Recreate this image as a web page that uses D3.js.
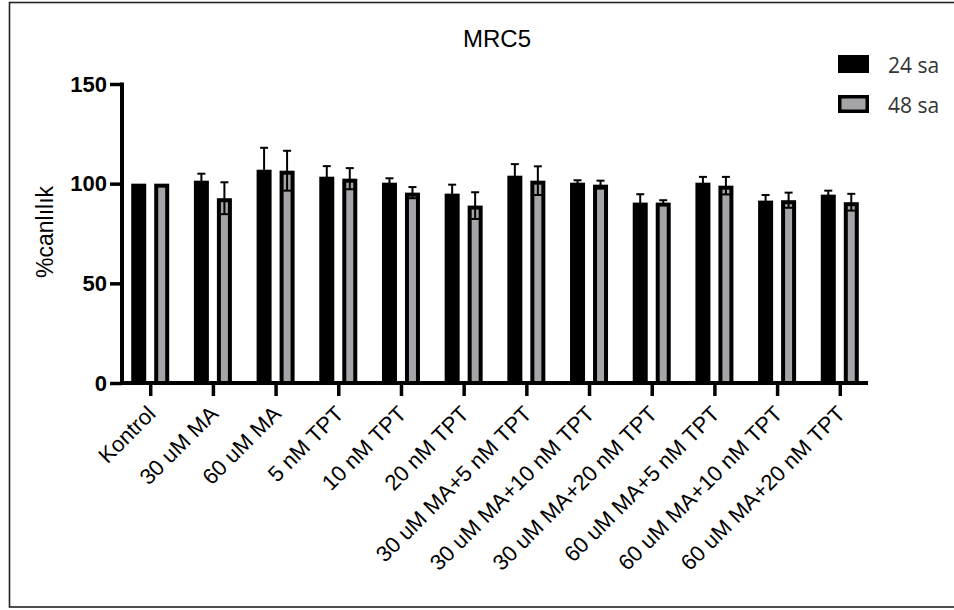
<!DOCTYPE html>
<html>
<head>
<meta charset="utf-8">
<script src="https://cdn.jsdelivr.net/npm/d3@7"></script>
<style>
  html, body { margin: 0; padding: 0; background: #fff; }
  svg { display: block; }
</style>
</head>
<body>
<div id="chart"></div>
<script>
// Treatment groups on the x axis
const categories = [
  "Kontrol", "30 uM MA", "60 uM MA", "5 nM TPT", "10 nM TPT", "20 nM TPT",
  "30 uM MA+5 nM TPT", "30 uM MA+10 nM TPT", "30 uM MA+20 nM TPT",
  "60 uM MA+5 nM TPT", "60 uM MA+10 nM TPT", "60 uM MA+20 nM TPT"
];
// % viability, 24 h and 48 h, with error (SD) values
const mean24 = [100, 101.5, 107, 103.5, 100.5, 95, 104, 100.5, 90.5, 100.5, 91.5, 94.5];
const err24  = [0, 3.5, 11, 5.3, 2.2, 4.5, 5.8, 1.2, 4.2, 2.9, 2.8, 2];
const mean48 = [100, 92.7, 106.5, 102.5, 95.5, 89, 101.5, 99.5, 90.5, 99, 91.7, 90.7];
const err48  = [0, 8, 10, 5.3, 2.8, 6.7, 7.2, 2, 1.2, 4.4, 3.8, 4.2];
const yTicks = [0, 50, 100, 150];
const seriesNames = ["24 sa", "48 sa"];

const W = 954, H = 610;
const GRAY = "#a4a4a9";
const FONT = "'Liberation Sans', Arial, Helvetica, sans-serif";

const svg = d3.select("#chart").append("svg")
  .attr("width", W).attr("height", H);

// outer frame
svg.append("rect")
  .attr("x", 9.5).attr("y", 2.5).attr("width", 960).attr("height", 604.5)
  .attr("fill", "none").attr("stroke", "#222").attr("stroke-width", 1.6);

const x = d3.scalePoint().domain(categories).range([122, 868]).padding(0.45);
const y = d3.scaleLinear().domain([0, 150]).range([383, 84]);

const barW = 15, gap = 4;

const series = [
  { name: seriesNames[0], mean: mean24, err: err24, off: -gap - barW, fill: "#000" },
  { name: seriesNames[1], mean: mean48, err: err48, off: gap, fill: GRAY }
];

const plot = svg.append("g");

series.forEach(s => {
  const g = plot.append("g");
  categories.forEach((c, i) => {
    const x0 = x(c) + s.off;
    const top = y(s.mean[i]);
    g.append("rect")
      .attr("x", x0).attr("y", top)
      .attr("width", barW).attr("height", y(0) - top)
      .attr("fill", "#000");
    if (s.fill !== "#000") {
      g.append("rect")
        .attr("x", x0 + 4).attr("y", top + 4)
        .attr("width", barW - 8).attr("height", Math.max(0, y(0) - top - 4))
        .attr("fill", s.fill);
    }
    const e = s.err[i];
    if (e > 0) {
      const cx = x0 + barW / 2;
      const hi = y(s.mean[i] + e), lo = y(s.mean[i] - e);
      g.append("line").attr("x1", cx).attr("x2", cx).attr("y1", hi).attr("y2", lo)
        .attr("stroke", "#000").attr("stroke-width", 2);
      [hi, lo].forEach(yy => {
        g.append("line").attr("x1", cx - 4).attr("x2", cx + 4).attr("y1", yy).attr("y2", yy)
          .attr("stroke", "#000").attr("stroke-width", 2);
      });
    }
  });
});

// y axis
const yAxis = svg.append("g")
  .attr("transform", "translate(122,0)")
  .call(d3.axisLeft(y).tickValues(yTicks).tickSize(12).tickSizeOuter(0).tickPadding(3));
yAxis.select(".domain").attr("stroke", "#000").attr("stroke-width", 4)
  .attr("d", `M0,${y(150) - 1.5}V${y(0) + 2}`);
yAxis.selectAll(".tick line").attr("stroke", "#000").attr("stroke-width", 3.5);
yAxis.selectAll(".tick text")
  .attr("font-family", FONT).attr("font-size", 22).attr("font-weight", "bold")
  .attr("fill", "#000");

// x axis
const xAxis = svg.append("g")
  .attr("transform", `translate(0,${y(0)})`)
  .call(d3.axisBottom(x).tickSize(13).tickSizeOuter(0));
xAxis.select(".domain").attr("stroke", "#000").attr("stroke-width", 4)
  .attr("d", "M120,0H868");
xAxis.selectAll(".tick line").attr("stroke", "#000").attr("stroke-width", 3.5);
xAxis.selectAll(".tick text")
  .attr("font-family", FONT).attr("font-size", 22).attr("fill", "#000")
  .attr("text-anchor", "end")
  .attr("y", 0).attr("dy", "0.72em")
  .attr("transform", "translate(-5,21) rotate(-45)");

// axis title
svg.append("text")
  .attr("transform", "translate(53,232) rotate(-90)")
  .attr("text-anchor", "middle")
  .attr("font-family", FONT).attr("font-size", 23).attr("fill", "#000")
  .text("%canlılık");

// chart title
svg.append("text")
  .attr("x", 497).attr("y", 47)
  .attr("text-anchor", "middle")
  .attr("font-family", FONT).attr("font-size", 24).attr("fill", "#000")
  .text("MRC5");

// legend
const legend = svg.append("g");
series.forEach((s, i) => {
  const ly = 55 + i * 40;
  legend.append("rect").attr("x", 838).attr("y", ly).attr("width", 31).attr("height", 18)
    .attr("fill", "#000");
  if (s.fill !== "#000") {
    legend.append("rect").attr("x", 838 + 3.5).attr("y", ly + 3.5).attr("width", 31 - 7).attr("height", 18 - 7)
      .attr("fill", s.fill);
  }
  legend.append("text").attr("x", 888).attr("y", ly + 18)
    .attr("font-family", "'Open Sans', 'Noto Sans', sans-serif").attr("font-size", 21)
    .attr("fill", "#333").text(s.name);
});
</script>
</body>
</html>
